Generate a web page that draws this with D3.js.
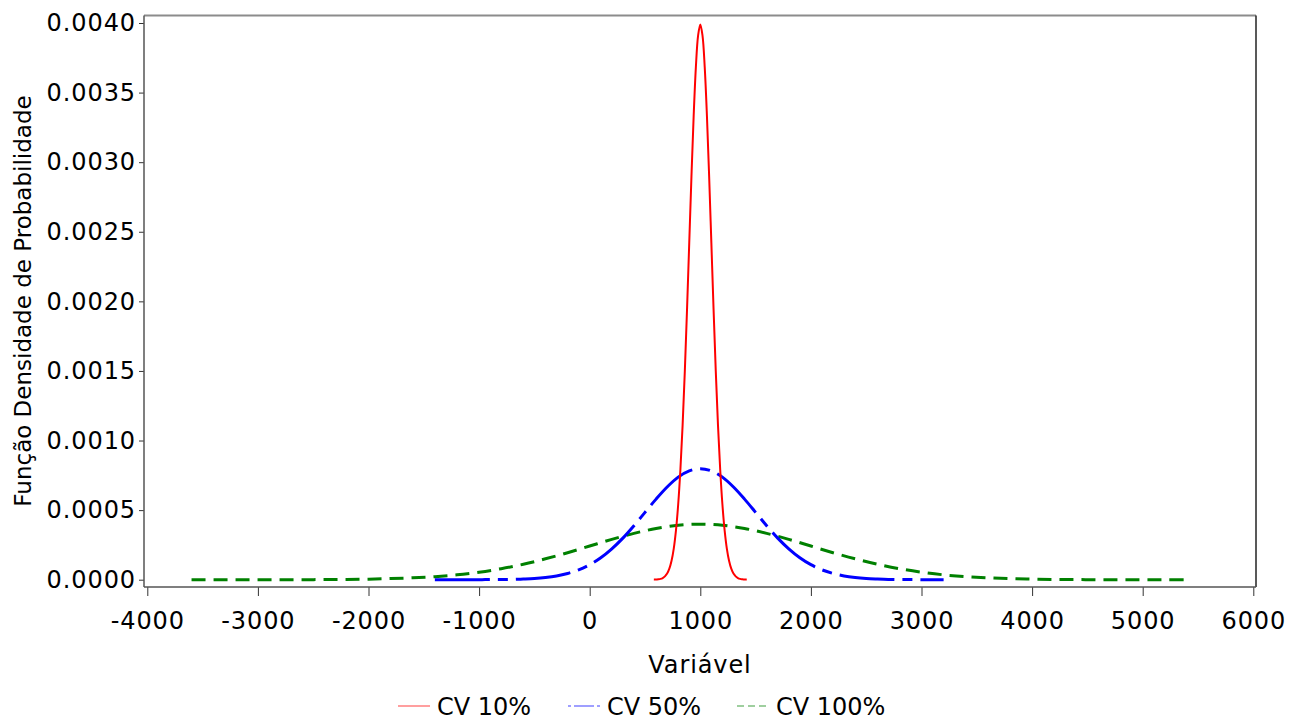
<!DOCTYPE html>
<html>
<head>
<meta charset="utf-8">
<script src="https://cdn.jsdelivr.net/npm/d3@7"></script>
<style>
  body { margin: 0; background: #fff; }
  svg { display: block; font-family: "DejaVu Sans", Verdana, sans-serif; }
</style>
</head>
<body>
<svg width="1289" height="721"></svg>
<script>
// Data (density values per curve)
const seriesNames = ["CV 10%", "CV 50%", "CV 100%"];

const cv10X = [580,600,620,640,660,680,700,720,740,760,780,800,820,840,860,880,900,920,940,960,980,1000,
  1020,1040,1060,1080,1100,1120,1140,1160,1180,1200,1220,1240,1260,1280,1300,1320,1340,1360,1380,1400,1420];
const cv10Y = [0.000001,0.000001,0.000003,0.000006,0.000012,0.000024,0.000044,0.000079,0.000136,0.000224,0.000355,
  0.000540,0.000790,0.001109,0.001497,0.001942,0.002420,0.002897,0.003332,0.003683,0.003910,0.003989,
  0.003910,0.003683,0.003332,0.002897,0.002420,0.001942,0.001497,0.001109,0.000790,0.000540,0.000355,
  0.000224,0.000136,0.000079,0.000044,0.000024,0.000012,0.000006,0.000003,0.000001,0.000001];

const cv50X = [-1400,-1300,-1200,-1100,-1000,-900,-800,-700,-600,-500,-400,-300,-200,-100,0,100,200,300,400,500,
  600,700,800,900,1000,1100,1200,1300,1400,1500,1600,1700,1800,1900,2000,2100,2200,2300,2400,2500,2600,2700,
  2800,2900,3000,3100,3200];
const cv50Y = [0,0,0,0,0,0.000001,0.000001,0.000002,0.000005,0.000009,0.000016,0.000027,0.000045,0.000071,
  0.000108,0.000158,0.000222,0.000299,0.000388,0.000484,0.000579,0.000666,0.000737,0.000782,0.000798,
  0.000782,0.000737,0.000666,0.000579,0.000484,0.000388,0.000299,0.000222,0.000158,0.000108,0.000071,
  0.000045,0.000027,0.000016,0.000009,0.000005,0.000002,0.000001,0.000001,0,0,0];

const cv100X = [-3600,-3400,-3200,-3000,-2800,-2600,-2400,-2200,-2000,-1800,-1600,-1400,-1200,-1000,-800,-600,
  -400,-200,0,200,400,600,800,1000,1200,1400,1600,1800,2000,2200,2400,2600,2800,3000,3200,3400,3600,3800,
  4000,4200,4400,4600,4800,5000,5200,5400];
const cv100Y = [0,0,0,0,0,0,0.000001,0.000002,0.000004,0.000008,0.000014,0.000022,0.000035,0.000054,0.000079,
  0.000111,0.000150,0.000194,0.000242,0.000290,0.000333,0.000368,0.000391,0.000399,
  0.000391,0.000368,0.000333,0.000290,0.000242,0.000194,0.000150,0.000111,0.000079,0.000054,0.000035,
  0.000022,0.000014,0.000008,0.000004,0.000002,0.000001,0,0,0,0,0];

// Tick values
const xTicks = [-4000,-3000,-2000,-1000,0,1000,2000,3000,4000,5000,6000];
const yTicks = [0,0.0005,0.0010,0.0015,0.0020,0.0025,0.0030,0.0035,0.0040];

const colors = ["#ff0000", "#0000ff", "#008000"];
const dashes = [null, "55,8,10,8", "14,8"];
const widths = [2, 3, 3];

const svg = d3.select("svg");
const fontSize = 24;

// Frame edges
const frameLeft = 144, frameRight = 1256, frameTop = 15.5, frameBottom = 587;

// Scales
const xScale = d3.scaleLinear().domain([-4000, 6000]).range([147.3, 1253.3]);
const yScale = d3.scaleLinear().domain([0, 0.004]).range([579.7, 23]);

// minor ticks
const xMinor = d3.range(-4000, 6001, 200).filter(v => v % 1000 !== 0);
const yMinor = d3.range(0, 41).map(i => i / 10000).filter((v, i) => i % 5 !== 0);

// x axis
const gx = svg.append("g").attr("transform", `translate(0,${frameBottom})`);
gx.call(d3.axisBottom(xScale).tickValues(xMinor).tickSize(5).tickFormat(""));
gx.call(d3.axisBottom(xScale).tickValues(xTicks).tickSize(9).tickPadding(16).tickFormat(d => String(d)));
gx.selectAll(".domain").remove();

// y axis
const gy = svg.append("g").attr("transform", `translate(${frameLeft},0)`);
gy.call(d3.axisLeft(yScale).tickValues(yMinor).tickSize(3).tickFormat(""));
gy.call(d3.axisLeft(yScale).tickValues(yTicks).tickSize(5).tickPadding(3).tickFormat(d3.format(".4f")));
gy.selectAll(".domain").remove();

svg.selectAll(".tick line").attr("stroke", "#333");
svg.selectAll(".tick text")
  .attr("font-family", "DejaVu Sans, Verdana, sans-serif")
  .attr("font-size", fontSize)
  .attr("letter-spacing", 0.9)
  .attr("fill", "#000");
gx.attr("font-family", null).attr("font-size", null);
gy.attr("font-family", null).attr("font-size", null);

// frame
svg.append("line").attr("x1", frameLeft).attr("x2", frameRight).attr("y1", frameTop).attr("y2", frameTop)
  .attr("stroke", "#8c8c8c").attr("stroke-width", 2);
svg.append("line").attr("x1", frameRight).attr("x2", frameRight).attr("y1", frameTop).attr("y2", frameBottom)
  .attr("stroke", "#222").attr("stroke-width", 1.5);
svg.append("line").attr("x1", frameLeft).attr("x2", frameLeft).attr("y1", frameTop).attr("y2", frameBottom)
  .attr("stroke", "#555").attr("stroke-width", 1.5);
svg.append("line").attr("x1", frameLeft).attr("x2", frameRight).attr("y1", frameBottom).attr("y2", frameBottom)
  .attr("stroke", "#555").attr("stroke-width", 1.5);

// curves
const line = d3.line()
  .x(d => xScale(d[0]))
  .y(d => yScale(d[1]))
  .curve(d3.curveCatmullRom);

const series = [
  d3.zip(cv10X, cv10Y),
  d3.zip(cv50X, cv50Y),
  d3.zip(cv100X, cv100Y)
];

// draw wider ones first so the red sits on top
[2, 1, 0].forEach(i => {
  svg.append("path")
    .datum(series[i])
    .attr("d", line)
    .attr("fill", "none")
    .attr("stroke", colors[i])
    .attr("stroke-width", widths[i])
    .attr("stroke-dasharray", dashes[i]);
});

// axis titles
svg.append("text")
  .attr("x", 700).attr("y", 673)
  .attr("text-anchor", "middle")
  .attr("font-size", fontSize)
  .attr("letter-spacing", 0.9)
  .text("Variável");

svg.append("text")
  .attr("transform", "translate(31,301) rotate(-90)")
  .attr("text-anchor", "middle")
  .attr("font-size", 23)
  .text("Função Densidade de Probabilidade");

// legend
const legendX = [398, 568, 737];
const legend = svg.append("g");
seriesNames.forEach((name, i) => {
  legend.append("line")
    .attr("x1", legendX[i]).attr("x2", legendX[i] + 32)
    .attr("y1", 706).attr("y2", 706)
    .attr("stroke", colors[i])
    .attr("stroke-width", 1.5)
    .attr("stroke-opacity", 0.5)
    .attr("stroke-dasharray", i === 1 ? "3,3,20" : i === 2 ? "7,4" : null);
  legend.append("text")
    .attr("x", legendX[i] + 39).attr("y", 715)
    .attr("font-size", fontSize)
    .text(name);
});
</script>
</body>
</html>
